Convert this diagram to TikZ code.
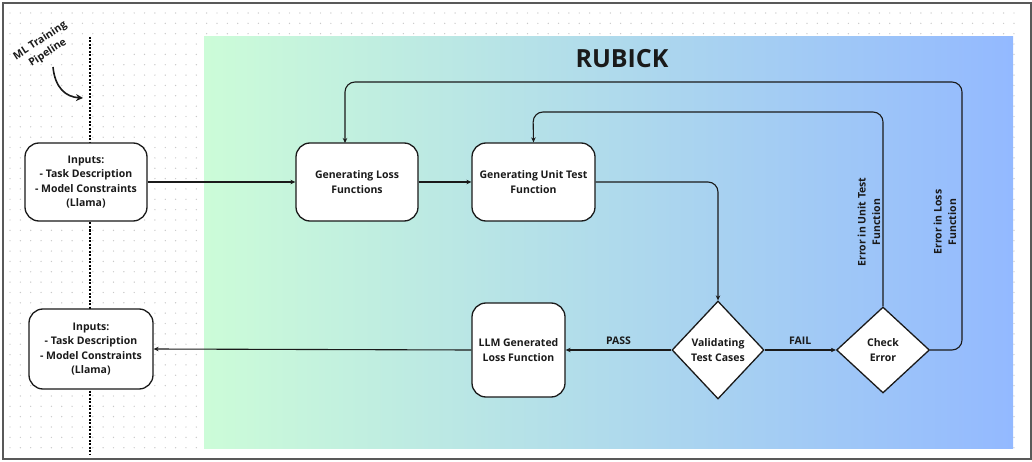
\documentclass[tikz,border=0pt]{standalone}
\usepackage{fontspec}
\setmainfont{Open Sans}
\usetikzlibrary{shapes.geometric,arrows.meta,calc}
\definecolor{gleft}{HTML}{CCFCD8}
\definecolor{gmid}{HTML}{B3DEE8}
\definecolor{gright}{HTML}{93B9FF}
\definecolor{dotc}{HTML}{C8C8C8}
\definecolor{ink}{HTML}{1A1A1A}
\tikzset{
  box/.style={draw=ink, line width=1.3pt, fill=white, rounded corners=14pt, align=center,
    font=\fontsize{10.5}{14.5}\selectfont\bfseries, text=ink, inner sep=2pt},
  dia/.style={draw=ink, line width=1.3pt, fill=white, diamond, align=center, inner sep=0pt,
    font=\fontsize{10.5}{14.5}\selectfont\bfseries, text=ink},
  conn/.style={draw=ink, line width=1.1pt, -{Stealth[length=5pt,width=4.5pt]}},
  lbl/.style={font=\fontsize{10.5}{14.5}\selectfont\bfseries, text=ink, align=center, inner sep=0pt},
}
\begin{document}
\begin{tikzpicture}[x=1pt,y=-1pt]
\useasboundingbox (0,0) rectangle (1032,462);
\fill[white] (0,0) rectangle (1032,462);
% dot grid
\foreach \i in {0,...,97}{
  \foreach \j in {0,...,42}{
    \fill[dotc] ({10+\i*10.35},{13+\j*10.35}) circle (0.7);
  }
}
% outer frame
\draw[draw=black!65, line width=1.3pt] (3,3) rectangle (1031,459);
% gradient panel
\shade[left color=gleft, middle color=gmid, right color=gright] (204,37) rectangle (1013,448);
% title
\node[font=\fontsize{25}{28}\selectfont\bfseries, text=ink] (title) at (622,59) {RUBICK};
% pipeline dotted line
\coordinate (pt) at (90,37);
\coordinate (pb) at (90,455);
\draw[black, line width=2.6pt, dash pattern=on 2pt off 1.5pt] (pt) -- (pb);
% ML Training Pipeline label
\node[lbl, rotate=33, font=\fontsize{10.5}{14}\selectfont\bfseries] (mlt) at (44,47) {ML Training\\Pipeline};
\coordinate (mla) at (53,67);
\coordinate (mlb) at (83,98);
\draw[ink, line width=1.6pt, -{Stealth[length=7pt,width=7pt]}] (mla) .. controls (55,88) and (66,97) .. (mlb);
% nodes
\node[box, minimum width=122pt, minimum height=78pt] (in1) at (86,182) {Inputs:\\- Task Description\\- Model Constraints\\(Llama)};
\node[box, minimum width=124pt, minimum height=80pt] (in2) at (91,349) {Inputs:\\- Task Description\\- Model Constraints\\(Llama)};
\node[box, minimum width=122pt, minimum height=78pt] (gl) at (357,182) {Generating Loss\\Functions};
\node[box, minimum width=123pt, minimum height=78pt] (gu) at (533.5,182) {Generating Unit Test\\Function};
\node[box, minimum width=93pt, minimum height=94pt] (llm) at (518.5,350) {LLM Generated\\Loss Function};
\node[dia, minimum width=92pt, minimum height=98pt] (val) at (718,350) {Validating\\Test Cases};
\node[dia, minimum width=93pt, minimum height=86pt] (chk) at (883,350) {Check\\Error};
% connectors
\draw[conn] (in1.east) -- (gl.west);
\draw[conn] (gl.east) -- (gu.west);
\coordinate (c1) at (718,182);
\draw[conn, rounded corners=10pt] (gu.east) -- (c1) -- (val.north);
\draw[conn] (val.west) -- node[lbl, above=5pt] (pass) {PASS} (llm.east);
\draw[conn] (val.east) -- node[lbl, above=5pt] (fail) {FAIL} (chk.west);
\draw[conn] (llm.west) -- (in2.east);
\coordinate (u1) at (883,112);
\coordinate (u2) at (533,112);
\draw[conn, rounded corners=10pt] (chk.north) -- (u1) -- (u2) -- (gu.north);
\coordinate (l1) at (962,350);
\coordinate (l2) at (962,82);
\coordinate (l3) at (345,82);
\coordinate (l4) at (345,143);
\draw[conn, rounded corners=10pt] (chk.east) -- (l1) -- (l2) -- (l3) -- (l4);
% rotated labels
\node[lbl, rotate=90] (eu) at (869,222) {Error in Unit Test\\Function};
\node[lbl, rotate=90] (el) at (945,222) {Error in Loss\\Function};
\end{tikzpicture}
\end{document}
